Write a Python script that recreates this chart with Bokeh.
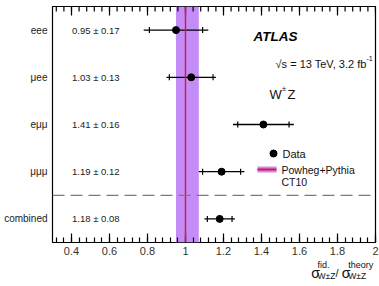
import numpy as np
from bokeh.plotting import figure
from bokeh.layouts import column
from bokeh.models import Range1d, FixedTicker, Span, BoxAnnotation, Label
from bokeh.core.properties import value
from bokeh.embed import file_html
from bokeh.resources import INLINE

# ---- data ----
channels = ["eee", "μee", "eμμ", "μμμ", "combined"]   # top to bottom
ratio = [0.95, 1.03, 1.41, 1.19, 1.18]
err_total = [0.17, 0.13, 0.16, 0.12, 0.08]
err_stat = [0.14, 0.115, 0.135, 0.10, 0.065]
theory = 1.0
theory_lo = 0.95
theory_hi = 1.07
x_ticks = [0.4, 0.6, 0.8, 1.0, 1.2, 1.4, 1.6, 1.8, 2.0]
x_tick_labels = ["0.4", "0.6", "0.8", "1", "1.2", "1.4", "1.6", "1.8", "2"]

FONT = "Liberation Sans"
n = len(channels)
rows = [n - 1 - i + 0.5 for i in range(n)]

p = figure(width=379, height=260, output_backend="svg", toolbar_location=None,
           x_range=Range1d(0.3, 2.0), y_range=Range1d(0, n),
           min_border_left=52, min_border_right=4, min_border_top=6, min_border_bottom=18)
p.xgrid.visible = False
p.ygrid.visible = False
p.outline_line_color = "black"
p.outline_line_width = 1.2
p.background_fill_color = "white"
p.border_fill_color = "white"

# helpers mapping canvas pixels to data coordinates (for annotation placement)
def X(px):
    return 0.3 + (px - 52) / 190.0

def Y(py):
    return (242 - py) / 47.2

minor = list(np.round(np.arange(0.32, 2.0001, 0.04), 2))
ticker = FixedTicker(ticks=x_ticks, minor_ticks=minor)

xa = p.xaxis[0]
xa.ticker = ticker
xa.major_label_overrides = {t: l for t, l in zip(x_ticks, x_tick_labels)}
xa.axis_line_color = None
xa.major_tick_in = 9
xa.major_tick_out = 0
xa.minor_tick_in = 5
xa.minor_tick_out = 0
xa.major_tick_line_width = 1.2
xa.minor_tick_line_width = 1.2
xa.major_label_text_font = FONT
xa.major_label_text_font_size = "11px"
xa.major_label_text_color = "#333333"
xa.major_label_standoff = 4

ya = p.yaxis[0]
ya.ticker = FixedTicker(ticks=rows)
ya.major_label_overrides = {r: c for r, c in zip(rows, channels)}
ya.axis_line_color = None
ya.major_tick_line_color = None
ya.minor_tick_line_color = None
ya.major_tick_in = 0
ya.major_tick_out = 0
ya.major_label_standoff = 5
ya.major_label_text_font = FONT
ya.major_label_text_font_size = "10px"
ya.major_label_text_color = "#222222"

# theory band and line
p.add_layout(BoxAnnotation(left=theory_lo, right=theory_hi, fill_color="#c48cf6",
                           fill_alpha=1.0, line_color=None, level="underlay"))
p.add_layout(Span(location=theory, dimension="height", line_color="#e3123c",
                  line_width=1.4))
# separator
p.add_layout(Span(location=1, dimension="width", line_color="#7a7a7a",
                  line_width=1.2, line_dash="12 6"))

# mirrored ticks on the top edge (half of each dash is clipped by the frame)
p.scatter(x=x_ticks, y=[n] * len(x_ticks), marker="dash", angle=np.pi / 2, size=18,
          line_color="black", line_width=1.2)
p.scatter(x=minor, y=[n] * len(minor), marker="dash", angle=np.pi / 2, size=10,
          line_color="black", line_width=1.2)

# data
x0 = [r - e for r, e in zip(ratio, err_total)]
x1 = [r + e for r, e in zip(ratio, err_total)]
p.segment(x0=x0, x1=x1, y0=rows, y1=rows, line_color="black", line_width=1.3)
sl = [r - s for r, s in zip(ratio, err_stat)]
sh = [r + s for r, s in zip(ratio, err_stat)]
p.scatter(x=sl + sh, y=rows + rows, marker="dash", angle=np.pi / 2, size=6,
          line_color="black", line_width=1.2)
p.scatter(x=ratio, y=rows, size=7, color="black")

# value labels
p.text(x=[X(71.5)] * n, y=rows,
       text=[f"{r:.2f} \u00b1 {e:.2f}" for r, e in zip(ratio, err_total)],
       text_font=value(FONT), text_font_size="9.5px", text_color="#222222",
       text_align="left", text_baseline="middle")

def lab(fig, x, y, text, size, style="normal", align="left", baseline="alphabetic",
        color="#111111"):
    fig.add_layout(Label(x=x, y=y, text=text, text_font=FONT, text_font_size=size,
                         text_font_style=style, text_align=align, text_baseline=baseline,
                         text_color=color))

# ATLAS labels
lab(p, X(253), Y(35.7), "ATLAS", "13.5px", style="bold italic", color="black")
lab(p, X(366), Y(63.3), "\u221As = 13 TeV, 3.2 fb", "11px", align="right")
lab(p, X(366), Y(57.5), "-1", "7px")
lab(p, X(269), Y(94.3), "W", "13px")
lab(p, X(281.5), Y(87.5), "\u00b1", "7.5px")
lab(p, X(287), Y(94.3), "Z", "13px")

# legend
p.scatter(x=[X(273)], y=[Y(153)], size=7, color="black")
lab(p, X(282), Y(153), "Data", "11px", baseline="middle")
p.quad(left=[X(257)], right=[X(276)], bottom=[Y(172)], top=[Y(166)],
       fill_color="#c48cf6", line_color=None)
p.segment(x0=[X(257)], x1=[X(276)], y0=[Y(169)], y1=[Y(169)], line_color="#e3123c",
          line_width=2.2)
lab(p, X(281), Y(169), "Powheg+Pythia", "10.5px", baseline="middle")
lab(p, X(281), Y(181), "CT10", "10.5px", baseline="middle")

# x-axis title strip below the main figure (pixel coordinates of the page)
t = figure(width=379, height=26, output_backend="svg", toolbar_location=None,
           x_range=Range1d(0, 379), y_range=Range1d(286, 260),
           x_axis_location=None, y_axis_location=None,
           min_border_left=0, min_border_right=0, min_border_top=0, min_border_bottom=0)
t.xgrid.visible = False
t.ygrid.visible = False
t.outline_line_color = None
t.background_fill_color = "white"
t.border_fill_color = "white"

lab(t, 303.5, 272.5, "\u03c3", "14px")
lab(t, 311, 264.5, "fid.", "9px")
lab(t, 311, 275, "W\u00b1Z", "8.5px")
lab(t, 332, 272.5, "/", "11px")
lab(t, 339.5, 272.5, "\u03c3", "14px")
lab(t, 347, 264.5, "theory", "9px")
lab(t, 347, 275, "W\u00b1Z", "8.5px")

layout = column(p, t, spacing=0)
open("out.html", "w").write(file_html(layout, INLINE))
